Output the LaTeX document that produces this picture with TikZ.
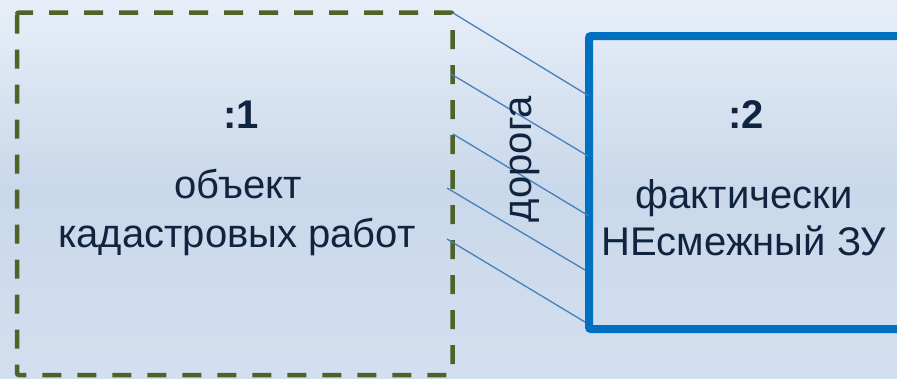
\documentclass[tikz,border=0pt]{standalone}
\usepackage{fontspec}
\setmainfont{Liberation Sans}
\definecolor{bgtop}{HTML}{E7EEF8}
\definecolor{bgmid}{HTML}{C9D8EA}
\definecolor{bgbot}{HTML}{D3DFEF}
\definecolor{olive}{HTML}{4F6228}
\definecolor{boxblue}{HTML}{0070C0}
\definecolor{roadblue}{HTML}{4A7EBB}
\definecolor{ink}{HTML}{10243F}
\tikzset{
  dashbox/.style={draw=olive, line width=4.5pt, dash pattern=on 19pt off 16pt, rounded corners=2pt},
  solidbox/.style={draw=boxblue, line width=8pt, rounded corners=2pt},
  roadline/.style={draw=roadblue, line width=1.3pt},
  bigtxt/.style={text=ink, font=\fontsize{40}{49}\selectfont, inner sep=0pt, anchor=base},
  numtxt/.style={text=ink, font=\fontsize{40}{49}\selectfont\bfseries, inner sep=0pt, anchor=base},
}
\begin{document}
\begin{tikzpicture}[x=1pt,y=-1pt]
\useasboundingbox (0,0) rectangle (897,378);
\shade[top color=bgtop, bottom color=bgbot, middle color=bgmid, shading angle=0] (0,0) rectangle (897,378);
% boxes
\draw[dashbox] (17,12.5) rectangle (452.5,375);
\draw[solidbox] (589,36) rectangle (905,329);
% road hatching
\coordinate (a1) at (453,13);  \coordinate (b1) at (589,96);
\coordinate (a2) at (451,74);  \coordinate (b2) at (588,156);
\coordinate (a3) at (453,134); \coordinate (b3) at (589,216);
\coordinate (a4) at (447,188); \coordinate (b4) at (585,270);
\coordinate (a5) at (447,239); \coordinate (b5) at (585,322);
\foreach \i in {1,...,5} \draw[roadline] (a\i) -- (b\i);
% texts
\node[numtxt] (n1) at (241,128) {:1};
\node[bigtxt] (t1a) at (238,198) {объект};
\node[bigtxt] (t1b) at (237,247) {кадастровых работ};
\node[numtxt] (n2) at (746,128) {:2};
\node[bigtxt] (t2a) at (744,208) {фактически};
\node[bigtxt] (t2b) at (744,255) {НЕсмежный ЗУ};
\node[bigtxt, rotate=90] (road) at (531,159) {дорога};
\end{tikzpicture}
\end{document}
